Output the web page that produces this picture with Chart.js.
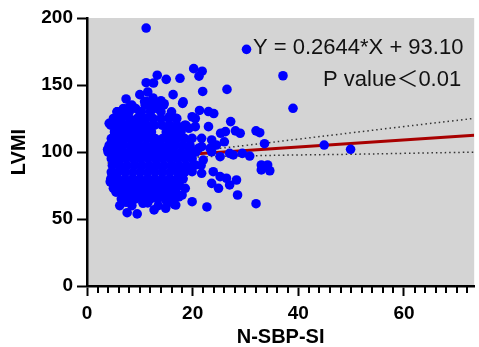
<!DOCTYPE html>
<html>
<head>
<meta charset="utf-8">
<script src="https://cdn.jsdelivr.net/npm/chart.js@4/dist/chart.umd.min.js"></script>
<style>
html,body{margin:0;padding:0;background:#fff;}
#wrap{position:relative;width:479px;height:347px;}
</style>
</head>
<body>
<div id="wrap"><canvas id="c" width="479" height="347"></canvas></div>
<script>
// ---- Data ----
const xTitle = 'N-SBP-SI';
const yTitle = 'LVMI';
const equationText = 'Y = 0.2644*X + 93.10';
const pValueText = 'P value\uFF1C0.01';
const slope = 0.2644;
const intercept = 93.10;
const fitX = [3.9, 73.3];
const xTickLabels = [0, 20, 40, 60];
const yTickLabels = [0, 50, 100, 150, 200];
const xMinorStep = 2;

// dense core of the cloud (N-SBP-SI, LVMI)
const corePoints = [
  [8.5,135],[11,135],[12.5,135],[14.5,135],
  [5.7,130],[8,130],[10,130],[12,130],[14,130],[16,130],
  [5,125],[6.5,125],[8,125],[9.5,125],[11,125],[12.5,125],[14,125],[15.5,125],[17,125],
  [4.5,120],[5.8,120],[7.2,120],[8.6,120],[10,120],[11.4,120],[12.8,120],[14.2,120],[15.6,120],[17,120],[18.5,120],
  [5.2,115],[6.5,115],[8,115],[9.4,115],[10.8,115],[12.2,115],[15,115],[16.4,115],[17.8,115],
  [4.6,110],[6,110],[7.3,110],[8.7,110],[10.1,110],[11.5,110],[12.9,110],[14.3,110],[15.7,110],[17.1,110],[18.5,110],
  [4.2,105],[5.5,105],[6.9,105],[8.3,105],[9.7,105],[11.1,105],[12.5,105],[13.9,105],[15.3,105],[16.7,105],[18.1,105],[19.5,105],
  [4.0,100],[5.2,100],[6.6,100],[8,100],[9.4,100],[10.8,100],[12.2,100],[13.6,100],[15,100],[16.4,100],[19.2,100],[20.6,100],
  [4.6,95],[5.9,95],[7.3,95],[8.7,95],[10.1,95],[11.5,95],[12.9,95],[14.3,95],[15.7,95],[17.1,95],[18.5,95],[19.9,95],
  [4.8,90],[6.2,90],[7.6,90],[9,90],[10.4,90],[11.8,90],[13.2,90],[14.6,90],[16,90],[17.4,90],[18.8,90],[20.2,90],[21.6,90],
  [4.6,85],[5.9,85],[7.3,85],[8.7,85],[10.1,85],[11.5,85],[12.9,85],[14.3,85],[15.7,85],[17.1,85],[18.5,85],
  [4.5,80],[5.8,80],[7.2,80],[8.6,80],[10,80],[11.4,80],[12.8,80],[14.2,80],[15.6,80],[17,80],[18.2,80],
  [5,75],[6.5,75],[7.9,75],[9.3,75],[10.7,75],[12.1,75],[13.5,75],[14.9,75],[16.3,75],[17.5,75],
  [5.5,70],[7,70],[8.4,70],[9.8,70],[11.2,70],[12.6,70],[14,70],[15.4,70],[16.8,70],
  [6.5,65],[7.8,65],[9.2,65],[10.6,65],[12,65],[13.4,65],[14.8,65],[16.2,65],
  [8.5,60],[13.5,60],[16.5,61],
  [6.9,132.5],[9.2,132.5],[13.2,132.5],[5.4,122.5],[7.9,117.5],[11.7,117.5],[16.9,117.5],
  [6.4,102.5],[10.2,102.5],[14.4,102.5],[17.8,100],[6.8,87.5],[12.4,87.5],[16.8,87.5],
  [6.6,77.5],[11.2,77.5],[15.6,77.5],[7.6,72.5],[12.2,72.5],[9.8,67.5],[13.8,67.5],
  [7.4,62.5],[11.4,62.5],[15.2,62.5]
];

// scattered points around the core
const outerPoints = [
  [11.2,192.5],[30.2,176.6],[37.1,156.9],[39.0,132.6],
  [20.2,162.2],[21.8,160.3],[21.2,156.6],[13.3,157.3],[15.0,154.2],[17.6,155],[11.2,151.7],[12.6,151.5],
  [21.9,145.2],[26.5,146.7],[16.3,142.8],[7.4,139.6],[10.0,142.8],[11.5,144.8],[18.2,137.4],[12.5,140.3],[14.0,138.3],[11.2,137.8],[8.5,134],[5.7,130],
  [21.3,131],[23.0,130.2],[24.0,128.7],[20.5,125],[27.2,122.7],[23.0,118.9],[20.5,118.9],[19.3,117.7],
  [25.3,114],[26.2,115.2],[28.1,115.8],[29.0,114],[32.0,115.8],[32.7,114.4],
  [21.7,110.2],[23.6,109],[19.9,110.2],[26.0,107.6],[33.6,106.2],[24.5,105.2],
  [21.7,104],[23.3,102.7],[21.1,102.7],[23.6,100.2],[44.9,105.2],[49.9,102],
  [25.2,96.5],[27.7,97.8],[29.4,99],[30.8,97],[27.0,99],[22,94],[20.5,90.3],[18.6,87.8],
  [33.0,90.3],[34.2,90.3],[33.0,86.6],[34.6,86],
  [19.9,85.3],[21.7,84.1],[23.9,85.3],[26.4,80.4],[28.3,79.1],[25.2,81.6],[23.6,76.6],[24.9,72.9],[27.0,75.4],[18.0,80.4],
  [28.5,67.9],[32.0,61.4],[22.7,59],[19.9,62.9],[18.0,67.9],[18.6,72.9],[15.5,65.4],[14.3,70.4],
  [12.7,56.8],[14.9,58],[16.8,60.4],[17.4,66.6],[6.2,60],[7.6,54.7],[9.5,53.8],[7.5,66.6],[10.6,61.7],[11.5,62],
  [3.9,102],[4.2,121.4],[4.1,101.5],[4.7,107.7],[5.3,114],[4.4,77.8],[5,72.9],[5.3,91.5],[4.7,84],
  [6.9,127.6],[8.1,133.8],[10.9,137.6],[10.3,130],[12.1,131.3],[13.7,136],[14.6,136],[18.1,136.3],[16.8,125.1],[15.6,126.3],[18.7,120],[19.9,126.3]
];

// 95% confidence band
const ciX     = [3.9, 8, 12, 16, 20, 25, 30, 40, 50, 60, 73.3];
const ciUpper = [96.4, 97.0, 97.8, 99.1, 100.6, 102.7, 104.9, 109.6, 114.3, 119.0, 125.1];
const ciLower = [91.8, 93.4, 94.8, 95.5, 96.2, 96.7, 97.1, 97.8, 98.3, 99.0, 99.9];

// ---- Chart ----
const FONT = '"Liberation Sans", Arial, "DejaVu Sans", sans-serif';
Chart.defaults.color = '#000';
Chart.defaults.font.family = FONT;

const scatterData = corePoints.concat(outerPoints).map(p => ({x: p[0], y: p[1]}));
const fitData = fitX.map(x => ({x: x, y: slope * x + intercept}));
const upperData = ciX.map((x, i) => ({x: x, y: ciUpper[i]}));
const lowerData = ciX.map((x, i) => ({x: x, y: ciLower[i]}));

const bgPlugin = {
  id: 'bg',
  beforeDraw(chart) {
    const a = chart.chartArea, ctx = chart.ctx;
    ctx.save();
    ctx.fillStyle = '#d4d4d4';
    ctx.fillRect(a.left, a.top, a.right - a.left, a.bottom - a.top);
    ctx.restore();
  }
};

const extrasPlugin = {
  id: 'extras',
  afterDraw(chart) {
    const ctx = chart.ctx, xs = chart.scales.x, a = chart.chartArea;
    ctx.save();
    // minor ticks on the x axis
    ctx.fillStyle = '#000';
    const n = Math.floor(xs.max / xMinorStep);
    for (let i = 1; i <= n; i++) {
      const v = i * xMinorStep;
      if (xTickLabels.includes(v)) continue;
      const px = xs.getPixelForValue(v);
      ctx.fillRect(Math.round(px) - 1, Math.round(a.bottom), 2, 7);
    }
    // annotation texts
    ctx.fillStyle = '#111';
    ctx.font = '22px ' + FONT + ', "Noto Sans CJK SC"';
    ctx.textBaseline = 'alphabetic';
    ctx.textAlign = 'left';
    ctx.fillText(equationText, 253, 54);
    ctx.fillText(pValueText, 323, 86);
    ctx.restore();
  }
};

new Chart(document.getElementById('c'), {
  type: 'scatter',
  data: {
    datasets: [
      { type: 'scatter', data: scatterData, backgroundColor: '#0000ff', borderColor: '#0000ff', borderWidth: 0,
        pointRadius: 4.8, pointHoverRadius: 4.8, order: 0 },
      { type: 'line', data: fitData, borderColor: '#a80000', borderWidth: 3, pointRadius: 0,
        fill: false, tension: 0, order: 1 },
      { type: 'line', data: upperData, borderColor: '#333', borderWidth: 1.5, borderDash: [1.5, 3],
        pointRadius: 0, fill: false, tension: 0.4, order: 1 },
      { type: 'line', data: lowerData, borderColor: '#333', borderWidth: 1.5, borderDash: [1.5, 3],
        pointRadius: 0, fill: false, tension: 0.4, order: 1 }
    ]
  },
  options: {
    responsive: false,
    animation: false,
    events: [],
    layout: { padding: { top: 18, right: 0, bottom: 0, left: 0 } },
    plugins: { legend: { display: false }, tooltip: { enabled: false } },
    scales: {
      x: {
        type: 'linear', min: 0, max: 73.3,
        afterFit(s) { s.height = 61; },
        ticks: {
          stepSize: 20, includeBounds: false, padding: 6,
          font: { size: 19, weight: 'bold', family: FONT },
          color: '#000',
          callback: v => (xTickLabels.includes(v) ? String(v) : '')
        },
        grid: { drawOnChartArea: false, drawTicks: true, tickLength: 10, tickColor: '#000', tickWidth: 2 },
        border: { display: true, color: '#000', width: 2.5 },
        title: { display: true, text: xTitle, font: { size: 20, weight: 'bold', family: FONT, lineHeight: 1 },
                 color: '#000', padding: { top: 0, bottom: 0 } }
      },
      y: {
        type: 'linear', min: 0, max: 200,
        afterFit(s) { s.width = 87; },
        ticks: {
          stepSize: 50, padding: 4,
          font: { size: 19, weight: 'bold', family: FONT },
          color: '#000',
          callback: v => (yTickLabels.includes(v) ? String(v) : '')
        },
        grid: { drawOnChartArea: false, drawTicks: true, tickLength: 10, tickColor: '#000', tickWidth: 2 },
        border: { display: true, color: '#000', width: 2.5 },
        title: { display: true, text: yTitle, font: { size: 20, weight: 'bold', family: FONT, lineHeight: 1 },
                 color: '#000', padding: { top: 9, bottom: 0 } }
      }
    }
  },
  plugins: [bgPlugin, extrasPlugin]
});
</script>
</body>
</html>
